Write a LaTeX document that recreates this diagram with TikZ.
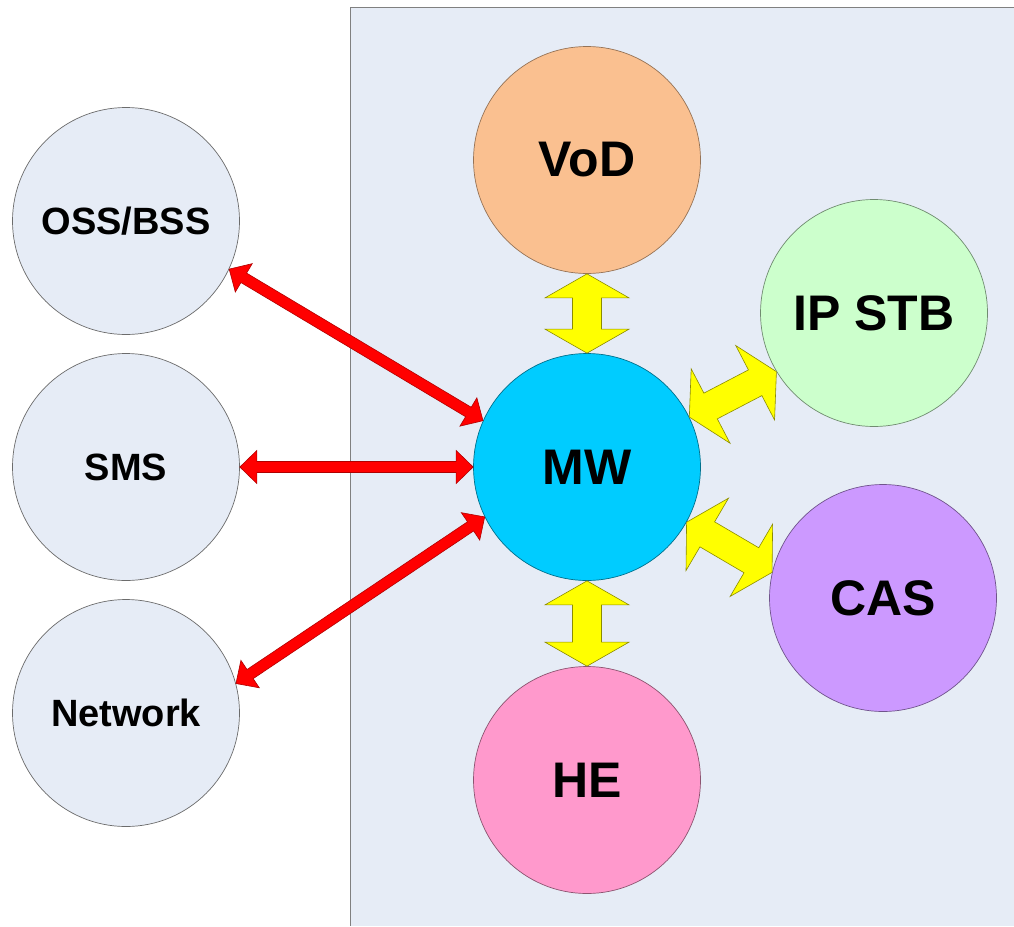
\documentclass[tikz,border=0pt]{standalone}
\usepackage{fontspec}
\setmainfont{Liberation Sans}
\usetikzlibrary{calc}
\definecolor{panel}{HTML}{E6ECF6}
\definecolor{sidefill}{HTML}{E6ECF6}
\definecolor{vodfill}{HTML}{FAC090}
\definecolor{mwfill}{HTML}{00CCFF}
\definecolor{stbfill}{HTML}{CCFFCC}
\definecolor{casfill}{HTML}{CC99FF}
\definecolor{hefill}{HTML}{FF99CC}
\definecolor{redarrow}{HTML}{FF0000}
\definecolor{redline}{HTML}{B00000}
\definecolor{yelarrow}{HTML}{FFFF00}
\definecolor{yelline}{HTML}{8C8C00}
\newcommand\dblarrow[6]{%
 \coordinate (da-s) at (#1);
 \coordinate (da-e) at (#2);
 \coordinate (da-sh) at ($(da-s)!#5!(da-e)$);
 \coordinate (da-eh) at ($(da-e)!#5!(da-s)$);
 \draw[#6] (da-s) -- ($(da-sh)!#4!90:(da-e)$) -- ($(da-sh)!#3!90:(da-e)$)
   -- ($(da-eh)!#3!-90:(da-s)$) -- ($(da-eh)!#4!-90:(da-s)$) -- (da-e)
   -- ($(da-eh)!#4!90:(da-s)$) -- ($(da-eh)!#3!90:(da-s)$)
   -- ($(da-sh)!#3!-90:(da-e)$) -- ($(da-sh)!#4!-90:(da-e)$) -- cycle;
}
\tikzset{
  bubble/.style={circle, minimum size=227pt, inner sep=0pt, line width=0.7pt,
     font=\fontsize{50}{50}\selectfont\bfseries},
  sidebubble/.style={bubble, fill=sidefill, draw=gray!85!black,
     font=\fontsize{38}{38}\selectfont\bfseries},
  redarr/.style={fill=redarrow, draw=redline, line width=0.6pt, line join=miter},
  yelarr/.style={fill=yelarrow, draw=yelline, line width=0.6pt, line join=miter}
}
\begin{document}
\begin{tikzpicture}[x=1pt,y=-1pt]
\useasboundingbox (0,0) rectangle (1014,926);
\fill[white] (0,0) rectangle (1014,926);
\fill[panel] (350,7) rectangle (1014,926);
\draw[gray, line width=0.8pt] (1014,7) -- (350,7) -- (350,926);

\node[sidebubble] (oss) at (126,221) {OSS/BSS};
\node[sidebubble] (sms) at (126,467) {SMS};
\node[sidebubble] (net) at (126,713) {Network};

\node[bubble, fill=vodfill, draw=vodfill!60!black] (vod) at (587,160) {VoD};
\node[bubble, fill=mwfill, draw=mwfill!55!black] (mw) at (587,467) {MW};
\node[bubble, fill=stbfill, draw=stbfill!55!black] (stb) at (874,313) {IP STB};
\node[bubble, fill=casfill, draw=casfill!55!black] (cas) at (883,598) {CAS};
\node[bubble, fill=hefill, draw=hefill!55!black] (he) at (587,780) {HE};

\dblarrow{oss.-25}{mw.156}{5.5pt}{16.5pt}{17pt}{redarr}
\dblarrow{sms.0}{mw.180}{5.5pt}{16.5pt}{17pt}{redarr}
\dblarrow{net.15}{mw.206}{5.5pt}{16.5pt}{17pt}{redarr}

\dblarrow{vod.-90}{mw.90}{14.5pt}{42pt}{24pt}{yelarr}
\dblarrow{mw.-90}{he.90}{14.5pt}{42pt}{24pt}{yelarr}
\dblarrow{mw.26}{stb.211}{14.5pt}{42pt}{24pt}{yelarr}
\dblarrow{mw.-29}{cas.167}{14.5pt}{42pt}{24pt}{yelarr}
\end{tikzpicture}
\end{document}
